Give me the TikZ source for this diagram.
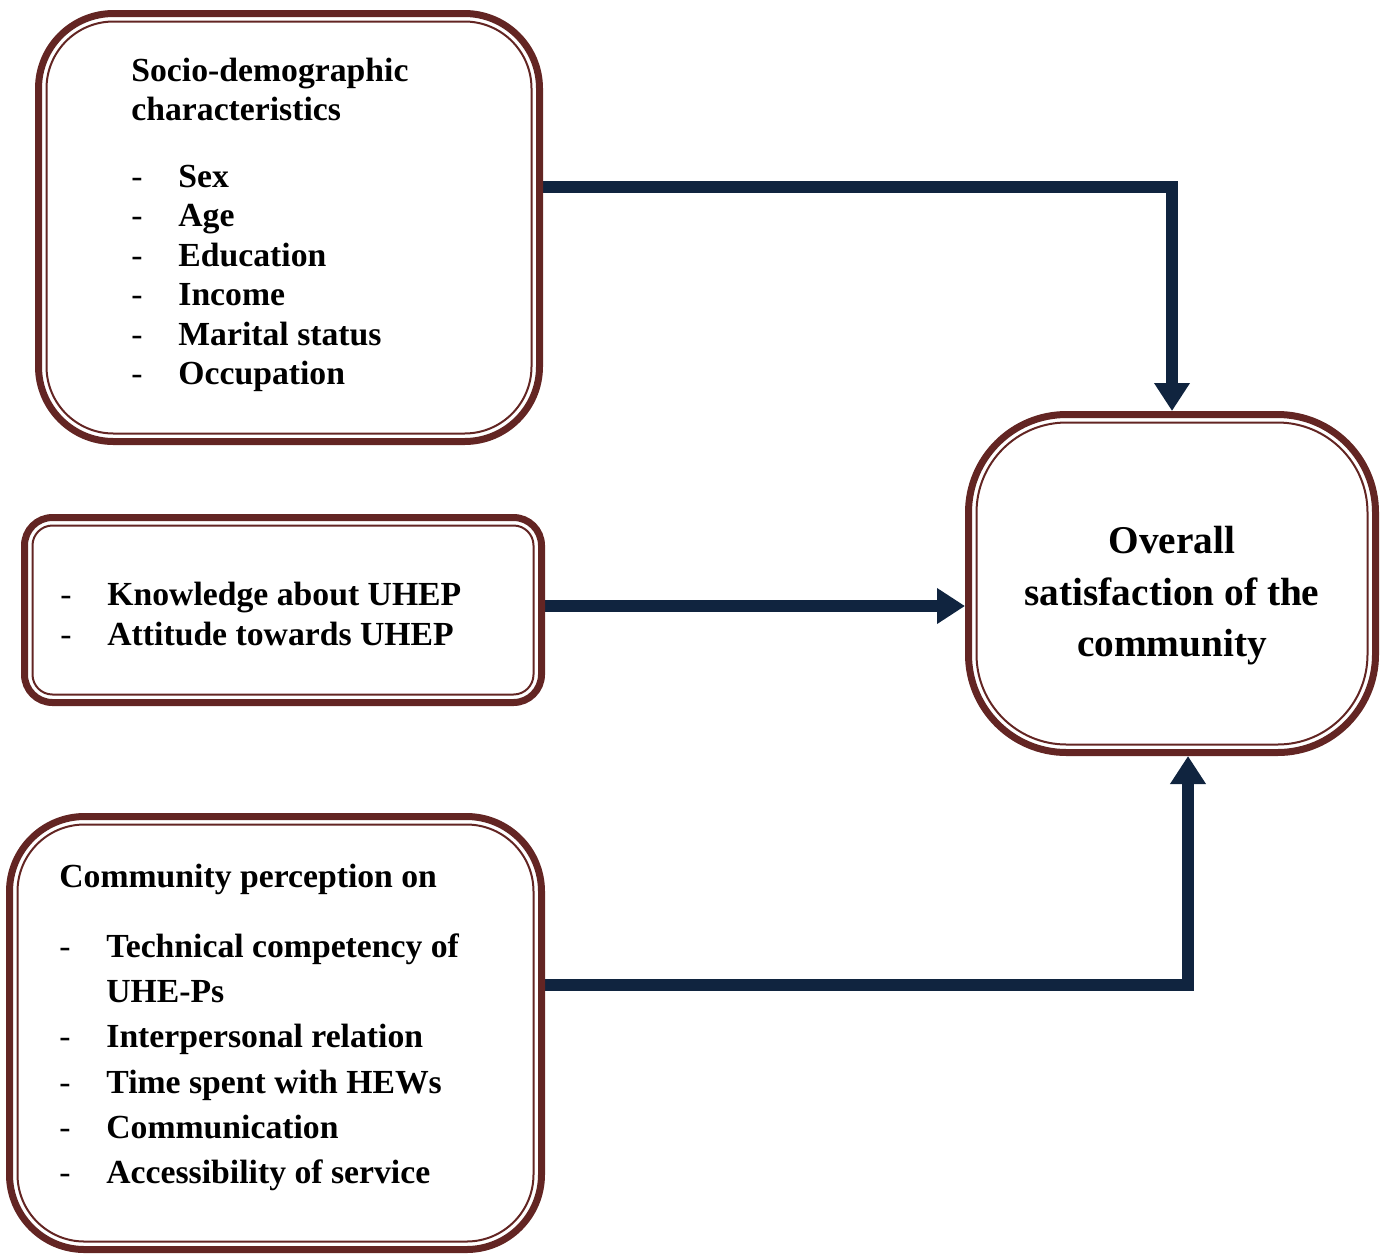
\documentclass[tikz,border=0pt]{standalone}
\usepackage{fontspec}
\setmainfont{Liberation Serif}
\usetikzlibrary{arrows.meta,backgrounds}

\definecolor{boxred}{HTML}{632523}
\definecolor{linkblue}{HTML}{10243F}
\newcommand{\itm}[1]{\makebox[23.5pt][l]{\mdseries -}#1}

\begin{document}
\begin{tikzpicture}[x=0.5pt,y=-0.5pt,
    box/.style={draw=boxred, line width=3.5pt, rounded corners=#1, outer sep=0pt, inner sep=0pt},
    inline/.style={draw=boxred, line width=1pt},
    txt/.style={anchor=base west, inner sep=0pt, font=\fontsize{16.85}{20}\selectfont\bfseries},
    big/.style={anchor=base, inner sep=0pt, font=\fontsize{19.66}{24}\selectfont\bfseries},
    link/.style={draw=linkblue, line width=6pt, -{Triangle[width=17pt,length=14pt]}, shorten >=1.75pt}]

    \useasboundingbox (0,0) rectangle (1385,1254);

    % boxes
    \node[box=37.5pt, minimum width=250.5pt, minimum height=214pt] (socio) at (289,227.5) {};
    \draw[inline, rounded corners=33.5pt] ([shift={(8,-8)}]socio.south west) rectangle ([shift={(-8,8)}]socio.north east);

    \node[box=14pt, minimum width=258.5pt, minimum height=92.5pt] (know) at (283,610) {};
    \draw[inline, rounded corners=10pt] ([shift={(8,-8)}]know.south west) rectangle ([shift={(-8,8)}]know.north east);

    \node[box=37.5pt, minimum width=266pt, minimum height=216.5pt] (percep) at (275.5,1033) {};
    \draw[inline, rounded corners=33.5pt] ([shift={(8,-8)}]percep.south west) rectangle ([shift={(-8,8)}]percep.north east);

    \node[box=49pt, minimum width=203.5pt, minimum height=169pt] (overall) at (1172,583.5) {};
    \draw[inline, rounded corners=45pt] ([shift={(8,-8)}]overall.south west) rectangle ([shift={(-8,8)}]overall.north east);

    % texts
    \node[txt] (soc-h1) at (131,81.5) {Socio-demographic};
    \node[txt] (soc-h2) at (131,120.5) {characteristics};
    \foreach \t [count=\i] in {Sex,Age,Education,Income,Marital status,Occupation}
        \node[txt] (soc-\i) at (131,{187+39.5*(\i-1)}) {\itm{\t}};

    \node[txt] (know-1) at (60,605.5) {\itm{Knowledge about UHEP}};
    \node[txt] (know-2) at (60,645.5) {\itm{Attitude towards UHEP}};

    \node[txt] (per-h) at (59,887) {Community perception on};
    \foreach \t [count=\i] in {Technical competency of,\makebox[23.5pt]{}UHE-Ps,Interpersonal relation,Time spent with HEWs,Communication,Accessibility of service}
        \node[txt] (per-\i) at (59,{957.5+45.2*(\i-1)}) {\ifnum\i=2 \t\else\itm{\t}\fi};

    \node[big] (ov-1) at (1172,553) {Overall};
    \node[big] (ov-2) at (1172,605) {satisfaction of the};
    \node[big] (ov-3) at (1172,656) {community};

    % connectors
    \begin{scope}[on background layer]
        \coordinate (k) at ([yshift=2pt]know.east);
        \draw[link] ([yshift=20.25pt]socio.east) -| (overall.north);
        \draw[link] (k) -- (k -| overall.west);
        \draw[link] ([yshift=24.25pt]percep.east) -| ([xshift=8pt]overall.south);
    \end{scope}

\end{tikzpicture}
\end{document}
